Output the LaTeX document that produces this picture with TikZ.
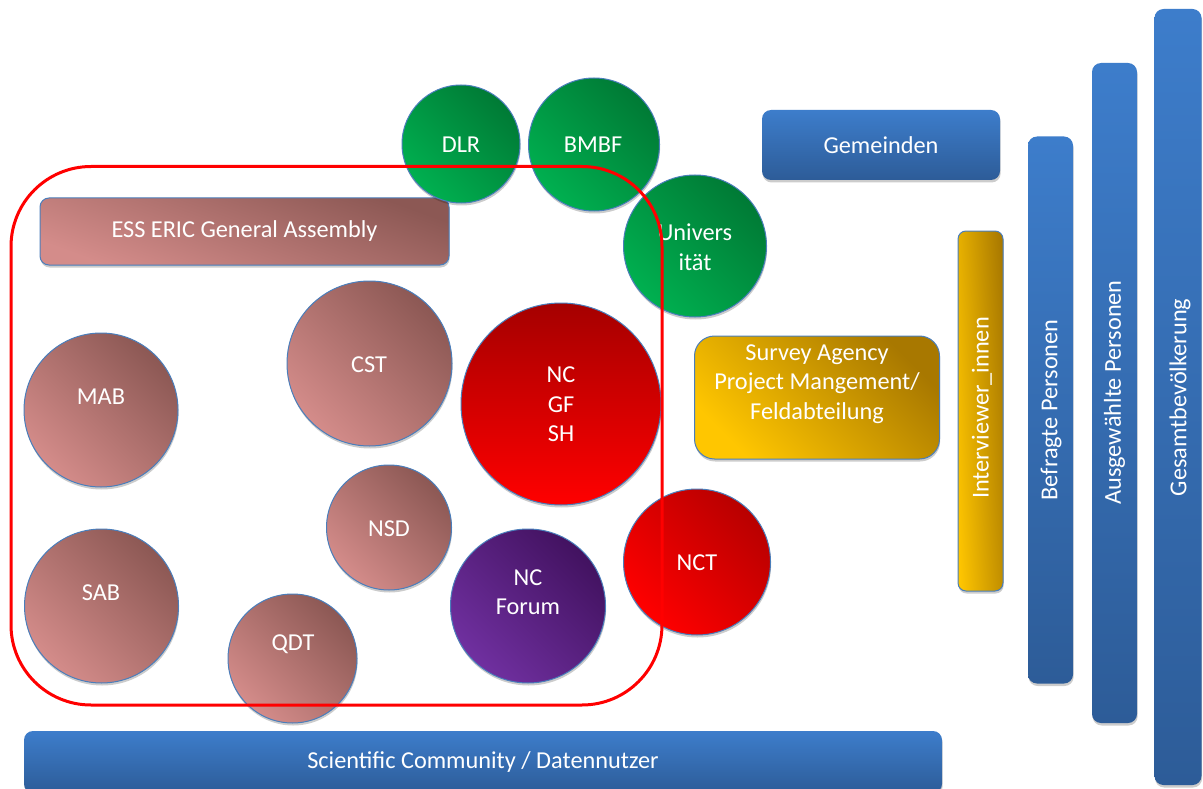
\documentclass[tikz,border=0pt]{standalone}
\usepackage{fontspec}
\setmainfont{Carlito}
\usetikzlibrary{shapes.geometric,shadows}
\definecolor{pinkL}{HTML}{D48C8A}
\definecolor{pinkD}{HTML}{8C5854}
\definecolor{greenL}{HTML}{00B050}
\definecolor{greenD}{HTML}{007A35}
\definecolor{redD}{HTML}{A50000}
\definecolor{redL}{HTML}{FF0000}
\definecolor{redM}{HTML}{B80000}
\definecolor{purpL}{HTML}{7030A0}
\definecolor{purpD}{HTML}{421260}
\definecolor{blueT}{HTML}{3D7DCB}
\definecolor{blueB}{HTML}{2D5C98}
\definecolor{goldL}{HTML}{FFC600}
\definecolor{goldD}{HTML}{A87800}
\definecolor{bord}{HTML}{4A7EBB}
\begin{document}
\begin{tikzpicture}[x=1pt,y=-1pt,
  shad/.style={drop shadow={shadow xshift=0.6pt,shadow yshift=-2.5pt,opacity=0.2,fill=black}},
  circ/.style={ellipse, draw=bord, line width=1pt, inner sep=0pt, shad},
  pinkc/.style={circ, top color=pinkD, bottom color=pinkL, shading angle=-45},
  greenc/.style={circ, top color=greenD, bottom color=greenL, shading angle=-45},
  purpc/.style={circ, top color=purpD, bottom color=purpL, shading angle=-45},
  redv/.style={circ, top color=redD, bottom color=redL},
  redc/.style={circ, top color=redM, bottom color=redL, shading angle=-45},
  bluebox/.style={rectangle, rounded corners=9pt, top color=blueT, bottom color=blueB, shad, inner sep=0pt},
  goldbox/.style={rectangle, draw=bord, line width=1pt, top color=goldD, bottom color=goldL, shading angle=-45, shad, inner sep=0pt},
  pinkbox/.style={rectangle, rounded corners=9pt, draw=bord, line width=1pt, top color=pinkD, bottom color=pinkL, shading angle=-20, shad, inner sep=0pt},
  lbl/.style={text=white, font=\fontsize{24.3}{29.5}\selectfont, align=center, inner sep=0pt},
]
\useasboundingbox[fill=white] (0,0) rectangle (1203,789);

% right-hand bars
\node[bluebox, minimum width=47pt, minimum height=776pt] (ges) at (1178,397) {};
\node[lbl, rotate=90] (tges) at (1180,397.5) {Gesamtbevölkerung};
\node[bluebox, minimum width=45pt, minimum height=660pt] (ausg) at (1114.5,393) {};
\node[lbl, rotate=90] (tausg) at (1114.5,392.5) {Ausgewählte Personen};
\node[bluebox, minimum width=45pt, minimum height=547pt] (bef) at (1050.5,410) {};
\node[lbl, rotate=90] (tbef) at (1051,410) {Befragte Personen};
\node[goldbox, left color=goldL, right color=goldD, shading angle=93, rounded corners=8pt, minimum width=45pt, minimum height=360pt] (intv) at (980.5,411) {};
\node[lbl, rotate=90] (tintv) at (982,408) {Interviewer\_innen};

\node[bluebox, minimum width=238pt, minimum height=70pt] (gem) at (881,145) {};
\node[lbl] (tgem) at (gem.center) {Gemeinden};

\node[goldbox, rounded corners=20pt, minimum width=245pt, minimum height=123pt] (survey) at (817,397.5) {};
\node[lbl] (tsurvey) at (817,384) {Survey Agency\\Project Mangement/\\Feldabteilung};

\node[bluebox, minimum width=918pt, minimum height=62pt] (sci) at (483,762) {};
\node[lbl] (tsci) at (sci.center) {Scientific Community / Datennutzer};

\node[pinkbox, minimum width=409pt, minimum height=67pt] (ess) at (244.5,231.5) {};
\node[lbl] (tess) at (ess.center) {ESS ERIC General Assembly};

% green circles
\node[greenc, minimum width=118pt, minimum height=118pt] (dlr) at (461,144) {};
\node[lbl] (tdlr) at (461,145) {DLR};
\node[greenc, minimum width=131pt, minimum height=133pt] (bmbf) at (594,144.5) {};
\node[lbl] (tbmbf) at (593,145) {BMBF};
\node[greenc, minimum width=143pt, minimum height=142pt] (uni) at (695,246) {};
\node[lbl] (tuni) at (695,247) {Univers\\ität};

% pink circles
\node[pinkc, minimum width=154pt, minimum height=154pt] (mab) at (101,410) {};
\node[lbl] (tmab) at (101,397) {MAB};
\node[pinkc, minimum width=165pt, minimum height=165pt] (cst) at (369.5,363.5) {};
\node[lbl] (tcst) at (369,365) {CST};
\node[pinkc, minimum width=125pt, minimum height=125pt] (nsd) at (389,527.5) {};
\node[lbl] (tnsd) at (389,529) {NSD};
\node[pinkc, minimum width=154pt, minimum height=154pt] (sab) at (101.5,606) {};
\node[lbl] (tsab) at (101,593) {SAB};
\node[pinkc, minimum width=129pt, minimum height=129pt] (qdt) at (292.5,658.5) {};
\node[lbl] (tqdt) at (293,644) {QDT};

% red / purple circles
\node[redv, minimum width=200pt, minimum height=202pt] (ncgf) at (561,404) {};
\node[lbl] (tncgf) at (561,404.5) {NC\\GF\\SH};
\node[purpc, minimum width=155pt, minimum height=154pt] (ncf) at (528,606) {};
\node[lbl] (tncf) at (528,592) {NC\\Forum};
\node[redc, minimum width=147pt, minimum height=146pt] (nct) at (697,562) {};
\node[lbl] (tnct) at (697,563) {NCT};

% red frame
\node[draw=red, line width=3pt, rounded corners=80pt, inner sep=0pt,
      minimum width=651pt, minimum height=538.5pt] (frame) at (336.5,435.75) {};
\end{tikzpicture}
\end{document}
